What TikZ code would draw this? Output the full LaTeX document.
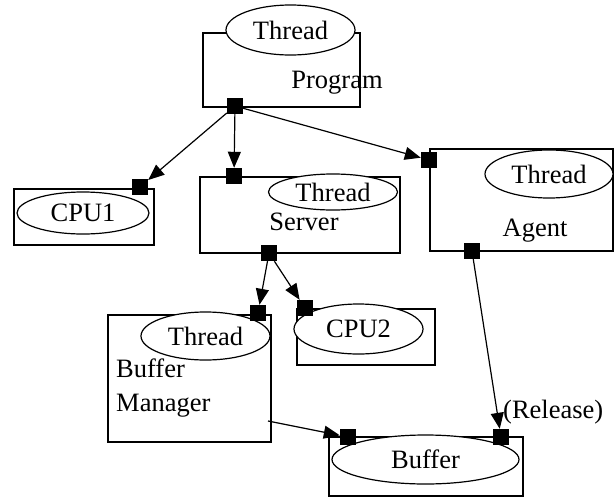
\documentclass[tikz,border=0pt]{standalone}
\usepackage{fontspec}
\setmainfont{Liberation Serif}
\usetikzlibrary{shapes.geometric,arrows.meta}

\tikzset{
  box/.style={draw, line width=1.2pt, inner sep=0pt},
  oval/.style={draw, ellipse, fill=white, line width=1.2pt, inner sep=0pt},
  port/.style={fill=black, inner sep=0pt, minimum size=16pt},
  link/.style={line width=1.2pt, -{Triangle[length=16pt,width=13pt]}},
  lbl/.style={inner sep=0pt}
}

\begin{document}
\begin{tikzpicture}[x=1pt, y=-1pt, font=\fontsize{26.5}{31}\selectfont]
\useasboundingbox (0,0) rectangle (616,498);

% boxes
\node[box, minimum width=157pt, minimum height=74pt] (program) at (281.5,70) {};
\node[box, minimum width=140pt, minimum height=56pt] (cpuone) at (84,217) {};
\node[box, minimum width=200pt, minimum height=76pt] (server) at (300,215) {};
\node[box, minimum width=183pt, minimum height=102pt] (agent) at (521.5,200) {};
\node[box, minimum width=163pt, minimum height=127pt] (bufmgr) at (189.5,378.5) {};
\node[box, minimum width=138pt, minimum height=56pt] (cputwo) at (366,337) {};
\node[box, minimum width=194pt, minimum height=59pt] (buffer) at (426,466.5) {};

% ovals
\node[oval, minimum width=129pt, minimum height=50pt] (programthr) at (290.5,30) {Thread};
\node[oval, minimum width=132pt, minimum height=42pt] (cpuoneov) at (83,213) {CPU1};
\node[oval, minimum width=129pt, minimum height=36pt] (serverthr) at (333,192) {Thread};
\node[oval, minimum width=128pt, minimum height=48pt] (agentthr) at (549,174) {Thread};
\node[oval, minimum width=129pt, minimum height=48pt] (bufmgrthr) at (205.5,336) {Thread};
\node[oval, minimum width=129pt, minimum height=50pt] (cputwoov) at (358.5,329) {CPU2};
\node[oval, minimum width=187pt, minimum height=49pt] (bufferov) at (425.5,459.5) {Buffer};

% labels
\node[lbl] (programlbl) at (337,83) {Program};
\node[lbl] (serverlbl) at (304,222) {Server};
\node[lbl] (agentlbl) at (535,231) {Agent};
\node[lbl, anchor=west] (bufmgrlbl) at (116,368) {Buffer};
\node[lbl, anchor=west] (bufmgrlbltwo) at (116,406) {Manager};
\node[lbl, anchor=west] (releaselbl) at (503,412) {(Release)};

% ports
\node[port] (programout) at (235,106) {};
\node[port] (cpuonein) at (140,187) {};
\node[port] (serverin) at (234,176) {};
\node[port] (serverout) at (269,253) {};
\node[port] (agentin) at (429,160) {};
\node[port] (agentout) at (472,251) {};
\node[port] (bufmgrin) at (258,313) {};
\node[port] (cputwoin) at (305,308) {};
\node[port] (bufferin) at (348,437) {};
\node[port] (bufferrel) at (501,437) {};
\coordinate (bufmgrout) at (268,421);

% connectors
\draw[link] (programout) -- (cpuonein);
\draw[link] (programout) -- (serverin);
\draw[link] (programout) -- (agentin);
\draw[link] (serverout) -- (bufmgrin);
\draw[link] (serverout) -- (cputwoin);
\draw[link] (agentout) -- (bufferrel);
\draw[link] (bufmgrout) -- (bufferin);
\end{tikzpicture}
\end{document}
